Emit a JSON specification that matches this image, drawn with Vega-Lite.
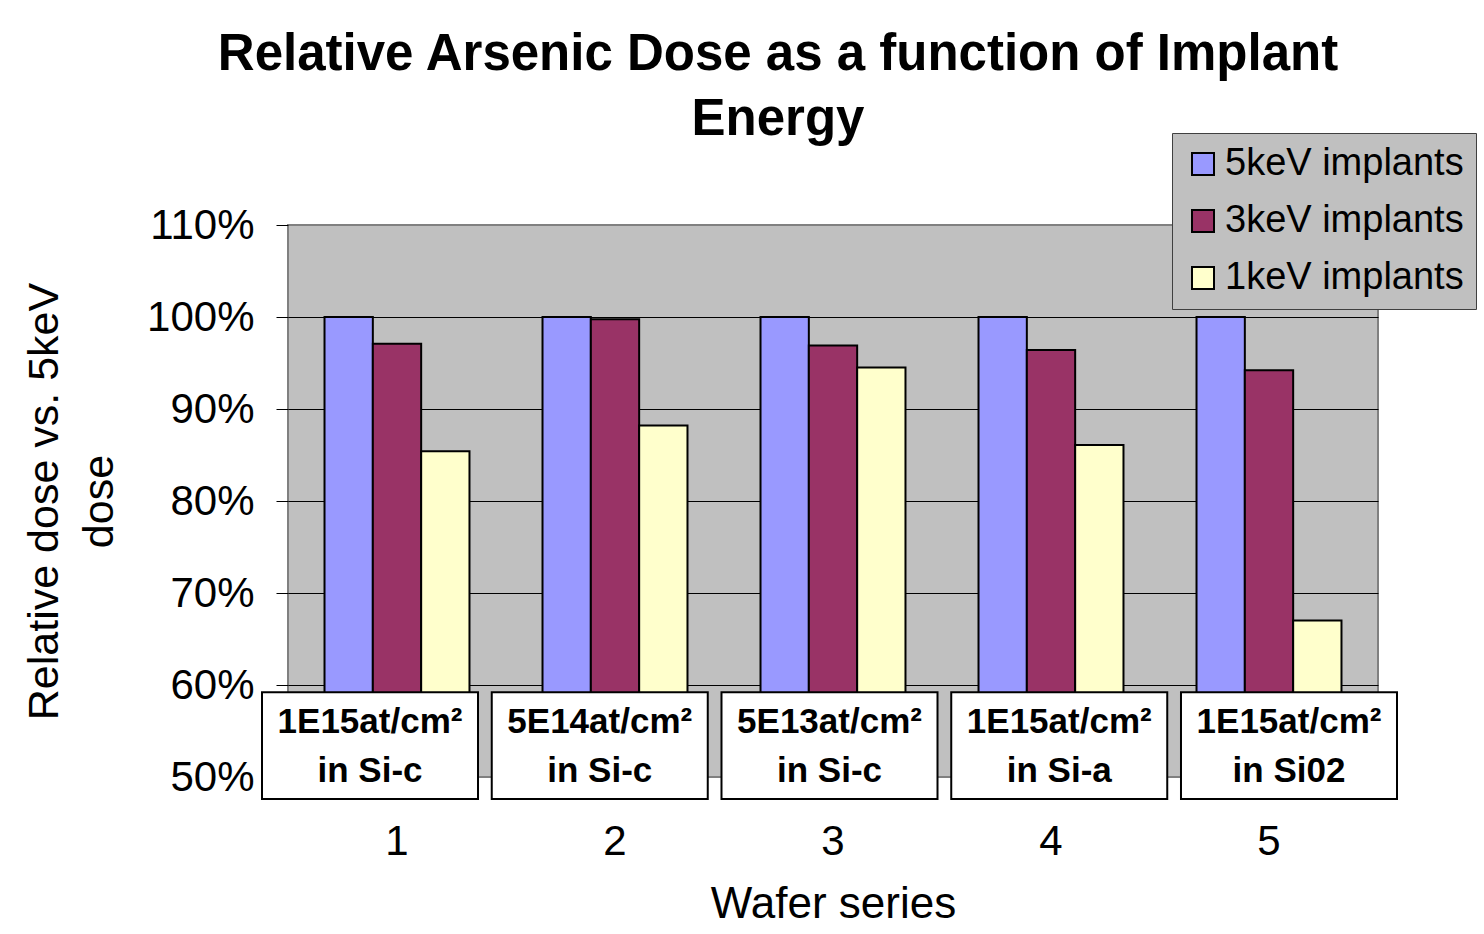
{
  "$schema": "https://vega.github.io/schema/vega-lite/v6.json",
  "width": 1090,
  "height": 552,
  "autosize": "none",
  "padding": {"left": 288, "top": 225, "right": 106, "bottom": 157},
  "background": "white",
  "config": {
    "font": "Liberation Sans",
    "view": {"stroke": "#808080", "strokeWidth": 2, "fill": "#C0C0C0"}
  },
  "title": {
    "text": ["Relative Arsenic Dose as a function of Implant", "Energy"],
    "fontSize": 51,
    "fontWeight": "bold",
    "color": "#000000",
    "anchor": "middle",
    "dx": -55,
    "lineHeight": 65,
    "offset": -13
  },
  "datasets": {
    "doses": [
      {"series": "1", "energy": "5keV implants", "dose": 1.0},
      {"series": "1", "energy": "3keV implants", "dose": 0.971},
      {"series": "1", "energy": "1keV implants", "dose": 0.854},
      {"series": "2", "energy": "5keV implants", "dose": 1.0},
      {"series": "2", "energy": "3keV implants", "dose": 0.9975},
      {"series": "2", "energy": "1keV implants", "dose": 0.882},
      {"series": "3", "energy": "5keV implants", "dose": 1.0},
      {"series": "3", "energy": "3keV implants", "dose": 0.969},
      {"series": "3", "energy": "1keV implants", "dose": 0.945},
      {"series": "4", "energy": "5keV implants", "dose": 1.0},
      {"series": "4", "energy": "3keV implants", "dose": 0.964},
      {"series": "4", "energy": "1keV implants", "dose": 0.861},
      {"series": "5", "energy": "5keV implants", "dose": 1.0},
      {"series": "5", "energy": "3keV implants", "dose": 0.942},
      {"series": "5", "energy": "1keV implants", "dose": 0.67}
    ],
    "boxes": [
      {"series": "1", "label": "1E15at/cm²\nin Si-c"},
      {"series": "2", "label": "5E14at/cm²\nin Si-c"},
      {"series": "3", "label": "5E13at/cm²\nin Si-c"},
      {"series": "4", "label": "1E15at/cm²\nin Si-a"},
      {"series": "5", "label": "1E15at/cm²\nin Si02"}
    ]
  },
  "layer": [
    {
      "data": {"name": "doses"},
      "mark": {"type": "bar", "stroke": "#000000", "strokeWidth": 2},
      "encoding": {
        "x": {
          "field": "series",
          "type": "nominal",
          "scale": {"paddingInner": 0.335, "paddingOuter": 0.1675},
          "axis": {
            "title": "Wafer series",
            "titleFontSize": 44,
            "titleFontWeight": "normal",
            "titleColor": "#000000",
            "titlePadding": 20,
            "labelAngle": 0,
            "labelFontSize": 42,
            "labelColor": "#000000",
            "labelPadding": 44,
            "ticks": false,
            "domain": false,
            "grid": false
          }
        },
        "xOffset": {
          "field": "energy",
          "type": "nominal",
          "sort": null,
          "scale": {"domain": ["5keV implants", "3keV implants", "1keV implants"], "paddingInner": 0, "paddingOuter": 0}
        },
        "y": {
          "field": "dose",
          "type": "quantitative",
          "scale": {"domain": [0.5, 1.1], "nice": false, "zero": false},
          "axis": {
            "title": ["Relative dose vs. 5keV", "dose"],
            "titleFontSize": 43,
            "titleFontWeight": "normal",
            "titleColor": "#000000",
            "titleLineHeight": 55,
            "titlePadding": 25,
            "values": [0.5, 0.6, 0.7, 0.8, 0.9, 1.0, 1.1],
            "format": ".0%",
            "labelFontSize": 42,
            "labelColor": "#000000",
            "labelPadding": 22,
            "tickSize": 12,
            "tickColor": "#000000",
            "domain": false,
            "grid": true,
            "gridColor": {"condition": {"test": "datum.value >= 1.1 || datum.value <= 0.5", "value": "#808080"}, "value": "#000000"},
            "gridWidth": 1,
            "gridOpacity": 1
          }
        },
        "y2": {"datum": 0.5},
        "color": {
          "field": "energy",
          "type": "nominal",
          "sort": null,
          "scale": {
            "domain": ["5keV implants", "3keV implants", "1keV implants"],
            "range": ["#9999FF", "#993366", "#FFFFCC"]
          },
          "legend": {
            "title": null,
            "orient": "none",
            "legendX": 884,
            "legendY": -92,
            "fillColor": "#C0C0C0",
            "strokeColor": "#404040",
            "padding": 12,
            "symbolType": "square",
            "symbolSize": 484,
            "symbolStrokeColor": "#000000",
            "symbolStrokeWidth": 2,
            "symbolOpacity": 1,
            "labelFontSize": 38,
            "labelColor": "#000000",
            "labelOffset": 3,
            "labelLimit": 400,
            "rowPadding": 19
          }
        }
      }
    },
    {
      "data": {"name": "boxes"},
      "encoding": {
        "x": {
          "field": "series",
          "type": "nominal",
          "scale": {"range": [-26, 1109], "paddingInner": 0.0598, "paddingOuter": 0},
          "axis": null
        }
      },
      "layer": [
        {
          "mark": {"type": "bar", "fill": "#FFFFFF", "stroke": "#000000", "strokeWidth": 2},
          "encoding": {
            "y": {"datum": 0.476},
            "y2": {"datum": 0.592}
          }
        },
        {
          "mark": {"type": "text", "fontSize": 35, "fontWeight": "bold", "color": "#000000", "lineBreak": "\n", "lineHeight": 49, "baseline": "alphabetic", "align": "center"},
          "encoding": {
            "y": {"datum": 0.5478},
            "text": {"field": "label"}
          }
        }
      ]
    }
  ],
  "resolve": {"scale": {"x": "independent"}}
}
